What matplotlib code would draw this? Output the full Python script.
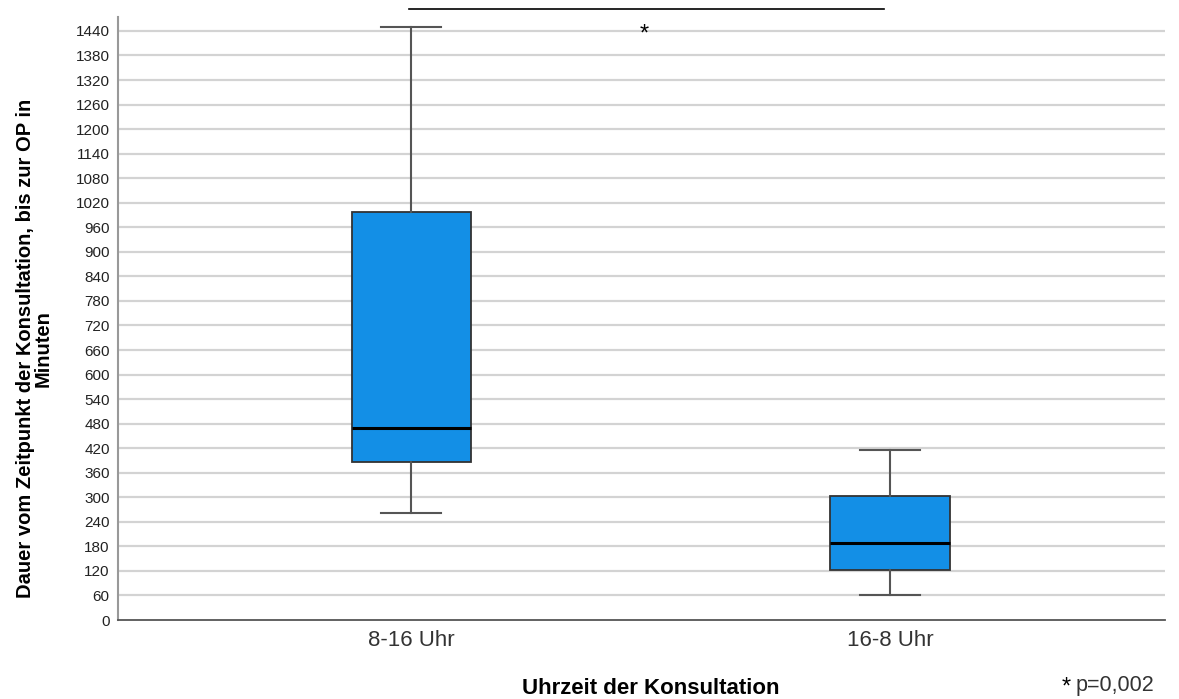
import matplotlib
matplotlib.use("Agg")
import matplotlib.pyplot as plt
import numpy as np

plt.rcParams['font.family'] = ['Liberation Sans', 'DejaVu Sans']

categories = ["8-16 Uhr", "16-8 Uhr"]
whisker_low = [262, 60]
q1 = [386, 122]
median = [469, 188]
q3 = [998, 303]
whisker_high = [1450, 416]
yticks = list(range(0, 1441, 60))
p_text = "p=0,002"

fig = plt.figure(figsize=(11.79, 6.99), dpi=100)
ax = fig.add_axes([118/1179, 1 - 620/699, (1165-118)/1179, (620-17)/699])

stats = []
for i, c in enumerate(categories):
    stats.append(dict(label=c, whislo=whisker_low[i], q1=q1[i], med=median[i],
                      q3=q3[i], whishi=whisker_high[i], fliers=[]))

positions = [1, 2]
ax.bxp(stats, positions=positions, widths=0.25, patch_artist=True, showfliers=False,
       boxprops=dict(facecolor='#138FE6', edgecolor='#333333', linewidth=1.3),
       medianprops=dict(color='#000000', linewidth=2.2),
       whiskerprops=dict(color='#555555', linewidth=1.5),
       capprops=dict(color='#555555', linewidth=1.5),
       capwidths=0.125, zorder=3)

ax.set_xlim(0.387, 2.575)
ax.set_ylim(0, 1474)
ax.set_yticks(yticks)
ax.set_yticklabels([str(t) for t in yticks], fontsize=11, color='#222222')
ax.set_xticks(positions)
ax.set_xticklabels(categories, fontsize=16, color='#333333')
ax.tick_params(axis='y', length=0, pad=6)
ax.tick_params(axis='x', length=0, pad=7)

for t in yticks[1:]:
    ax.axhline(t, color='#D3D3D3', linewidth=1.6, zorder=1)

for s in ['top', 'right']:
    ax.spines[s].set_visible(False)
ax.spines['left'].set_color('#999999')
ax.spines['left'].set_linewidth(1.5)
ax.spines['bottom'].set_color('#555555')
ax.spines['bottom'].set_linewidth(1.3)

# significance bar (above axes)
ax.plot([0.995, 1.988], [1.013, 1.013], transform=ax.get_xaxis_transform(),
        color='black', linewidth=1.2, clip_on=False)
ax.text(1.486, 1430, "*", ha='center', va='center', fontsize=17)

ax.set_ylabel("Dauer vom Zeitpunkt der Konsultation, bis zur OP in\nMinuten",
              fontsize=14.5, fontweight='bold', linespacing=0.95)
ax.yaxis.set_label_coords(-0.062, 0.45)

fig.text(651/1179, 1 - 688/699, "Uhrzeit der Konsultation", ha='center', va='center',
         fontsize=16, fontweight='bold')
fig.text(1066/1179, 1 - 688/699, "*", ha='center', va='center', fontsize=17)
fig.text(1076/1179, 1 - 686/699, p_text, ha='left', va='center', fontsize=15.5, color='#333333')

fig.savefig("out.png", dpi=100)
